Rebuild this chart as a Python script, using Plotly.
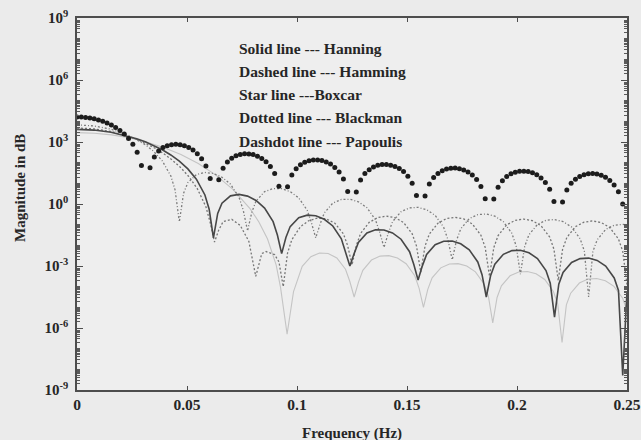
import numpy as np
import plotly.graph_objects as go

# ---------------------------------------------------------------------------
# Spectral magnitude of five data windows, stored as log10(magnitude).
# ---------------------------------------------------------------------------

# Boxcar ("star line"): sampled every 1/512 Hz from 0 to 0.25 Hz; exact nulls are empty.
boxcar_freq = np.arange(129) / 512.0
boxcar_log = [
    4.21, 4.21, 4.19, 4.16, 4.12, 4.07, 4.00, 3.92, 3.82, 3.70, 3.56, 3.39, 3.17, 2.89, 2.50, 1.86, None,
    1.75, 2.28, 2.56, 2.73, 2.82, 2.87, 2.89, 2.87, 2.82, 2.73, 2.61, 2.43, 2.19, 1.84, 1.23, None,
    1.17, 1.73, 2.03, 2.21, 2.33, 2.40, 2.43, 2.42, 2.39, 2.31, 2.20, 2.04, 1.81, 1.47, 0.86, None,
    0.83, 1.40, 1.70, 1.90, 2.02, 2.09, 2.13, 2.13, 2.10, 2.03, 1.93, 1.77, 1.55, 1.21, 0.61, None,
    0.58, 1.16, 1.47, 1.66, 1.79, 1.87, 1.91, 1.91, 1.88, 1.82, 1.72, 1.57, 1.34, 1.01, 0.41, None,
    0.39, 0.97, 1.28, 1.48, 1.61, 1.69, 1.73, 1.74, 1.71, 1.65, 1.55, 1.40, 1.18, 0.85, 0.25, None,
    0.24, 0.81, 1.13, 1.33, 1.46, 1.54, 1.59, 1.59, 1.57, 1.51, 1.41, 1.26, 1.04, 0.71, 0.12, None,
    0.10, 0.68, 1.00, 1.20, 1.33, 1.42, 1.46, 1.47, 1.45, 1.39, 1.29, 1.14, 0.92, 0.59, 0.00, None,
]

# Hanning (solid line)
hanning_freq = [
    0.0, 0.007752, 0.015504, 0.023256, 0.027132, 0.031008, 0.034884, 0.038760, 0.042636,
    0.046512, 0.050388, 0.054264, 0.058140, 0.060078, 0.062016,
    0.063954, 0.065892, 0.069768, 0.073644, 0.077520, 0.081395, 0.085271, 0.089147, 0.091085, 0.093023,
    0.094961, 0.096899, 0.100775, 0.104651, 0.108527, 0.112403, 0.116279, 0.120155, 0.122093, 0.124031,
    0.125969, 0.127907, 0.131783, 0.135659, 0.139535, 0.143411, 0.147287, 0.151163, 0.153101, 0.155039,
    0.156977, 0.158915, 0.162791, 0.166667, 0.170543, 0.174419, 0.178295, 0.182171, 0.184109, 0.186047,
    0.187985, 0.189922, 0.193798, 0.197674, 0.201550, 0.205426, 0.209302, 0.213178, 0.215116, 0.217054,
    0.218992, 0.220930, 0.224806, 0.228682, 0.232558, 0.236434, 0.240310, 0.244186, 0.246124, 0.248062,
    0.250000,
]
hanning_log = [
    3.612, 3.577, 3.470, 3.285, 3.160, 3.010, 2.833, 2.623, 2.373,
    2.072, 1.698, 1.202, 0.436, -0.256, -1.64,
    -0.455, 0.037, 0.395, 0.465, 0.382, 0.171, -0.196, -0.856, -1.502, -2.40,
    -1.620, -1.092, -0.668, -0.541, -0.572, -0.738, -1.063, -1.686, -2.315, -3.00,
    -2.400, -1.856, -1.404, -1.250, -1.257, -1.400, -1.704, -2.307, -2.926, -3.68,
    -2.993, -2.441, -1.972, -1.802, -1.795, -1.924, -2.214, -2.805, -3.418, -4.50,
    -3.473, -2.915, -2.436, -2.256, -2.239, -2.358, -2.639, -3.221, -3.830, -5.47,
    -3.878, -3.316, -2.828, -2.641, -2.617, -2.729, -3.004, -3.580, -4.186, -8.30,
    -4.227,
]

# Hamming (dashed line)
hamming_freq = [
    0.0, 0.0078125, 0.015625, 0.0234375, 0.02734375, 0.03125, 0.03515625, 0.0390625, 0.04296875,
    0.046875, 0.05078125, 0.0546875, 0.05859375, 0.06054688, 0.0625,
    0.064453, 0.066406, 0.070313, 0.074219, 0.078125, 0.080078, 0.08125, 0.083984, 0.085938,
    0.089844, 0.091797, 0.09375,
    0.095703, 0.097656, 0.101563, 0.105469, 0.109375, 0.113281, 0.117188, 0.121094, 0.123047, 0.125,
    0.126953, 0.128906, 0.132813, 0.136719, 0.140625, 0.144531, 0.148438, 0.152344, 0.154297, 0.15625,
    0.158203, 0.160156, 0.164063, 0.167969, 0.171875, 0.175781, 0.179688, 0.183594, 0.185547, 0.1875,
    0.189453, 0.191406, 0.195313, 0.199219, 0.203125, 0.207031, 0.210938, 0.214844, 0.216797, 0.21875,
    0.220703, 0.222656, 0.226563, 0.230469, 0.234375, 0.238281, 0.242188, 0.246094, 0.248047, 0.25,
]
hamming_log = [
    3.679, 3.636, 3.504, 3.276, 3.122, 2.938, 2.719, 2.461, 2.154,
    1.787, 1.333, 0.744, -0.136, -0.895, -1.84,
    -1.252, -0.856, -0.742, -1.037, -1.812, -2.771, -3.50, -2.40, -2.30,
    -2.45, -2.80, -4.00,
    -2.372, -1.724, -1.097, -0.799, -0.683, -0.718, -0.927, -1.443, -2.022, -2.95,
    -2.013, -1.425, -0.888, -0.656, -0.588, -0.660, -0.897, -1.437, -2.025, -3.30,
    -2.033, -1.452, -0.927, -0.704, -0.645, -0.723, -0.966, -1.509, -2.100, -3.50,
    -2.111, -1.531, -1.009, -0.788, -0.730, -0.810, -1.053, -1.598, -2.189, -3.70,
    -2.200, -1.620, -1.098, -0.877, -0.819, -0.899, -1.142, -1.686, -2.277, -3.90,
]

# Blackman (dotted line)
blackman_freq = [
    0.0, 0.007874, 0.015748, 0.023622, 0.031496, 0.039370, 0.047244, 0.055118, 0.062992,
    0.070866, 0.078740, 0.082677, 0.086614, 0.090551, 0.092520, 0.095500,
    0.098425, 0.102362, 0.106299, 0.110236, 0.114173, 0.118110, 0.122047, 0.124016, 0.125984,
    0.127953, 0.129921, 0.133858, 0.137795, 0.141732, 0.145669, 0.149606, 0.153543, 0.155512, 0.157480,
    0.159449, 0.161417, 0.165354, 0.169291, 0.173228, 0.177165, 0.181102, 0.185039, 0.187008, 0.188976,
    0.190945, 0.192913, 0.196850, 0.200787, 0.204724, 0.208661, 0.212598, 0.216535, 0.218504, 0.220472,
    0.222441, 0.224409, 0.228346, 0.232283, 0.236220, 0.240157, 0.244094, 0.248031, 0.250000,
]
blackman_log = [
    3.454, 3.427, 3.344, 3.204, 3.003, 2.736, 2.392, 1.959, 1.412,
    0.709, -0.239, -0.870, -1.697, -2.953, -4.031, -6.30,
    -4.236, -3.017, -2.546, -2.370, -2.393, -2.613, -3.155, -3.750, -4.50,
    -3.777, -3.208, -2.712, -2.521, -2.497, -2.612, -2.892, -3.474, -4.084, -5.00,
    -4.133, -3.573, -3.089, -2.906, -2.887, -3.004, -3.285, -3.866, -4.475, -5.75,
    -4.522, -3.960, -3.473, -3.287, -3.263, -3.377, -3.653, -4.230, -4.837, -6.70,
    -4.879, -4.315, -3.824, -3.633, -3.605, -3.713, -3.985, -4.558, -5.162,
]

# Papoulis (dash-dot line)
papoulis_freq = [
    0.0, 0.007752, 0.015504, 0.023256, 0.031008, 0.034884, 0.038760, 0.042636, 0.044574, 0.046512,
    0.048450, 0.050388, 0.054264, 0.058140, 0.062016, 0.065892, 0.069768, 0.073644, 0.075581, 0.077520,
    0.079457, 0.081395, 0.085271, 0.089147, 0.093023, 0.096899, 0.100775, 0.104651, 0.106589, 0.108527,
    0.110465, 0.112403, 0.116279, 0.120155, 0.124031, 0.127907, 0.131783, 0.135659, 0.137597, 0.139535,
    0.141473, 0.143411, 0.147287, 0.151163, 0.155039, 0.158915, 0.162791, 0.166667, 0.168605, 0.170543,
    0.172481, 0.174419, 0.178295, 0.182171, 0.186047, 0.189922, 0.193798, 0.197674, 0.199612, 0.201550,
    0.203488, 0.205426, 0.209302, 0.213178, 0.217054, 0.220930, 0.224806, 0.228682, 0.230620, 0.232558,
    0.234496, 0.236434, 0.240310, 0.244186, 0.248062, 0.250000,
]
papoulis_log = [
    3.829, 3.778, 3.619, 3.334, 2.875, 2.543, 2.088, 1.361, 0.687, -0.87,
    0.524, 1.034, 1.426, 1.528, 1.477, 1.296, 0.959, 0.327, -0.305, -1.30,
    -0.396, 0.146, 0.596, 0.748, 0.741, 0.599, 0.297, -0.303, -0.921, -1.64,
    -0.984, -0.430, 0.043, 0.218, 0.230, 0.107, -0.178, -0.762, -1.372, -2.10,
    -1.421, -0.860, -0.373, -0.187, -0.162, -0.274, -0.549, -1.123, -1.729, -2.70,
    -1.769, -1.203, -0.708, -0.514, -0.482, -0.587, -0.854, -1.422, -2.024, -3.40,
    -2.058, -1.489, -0.989, -0.788, -0.751, -0.851, -1.113, -1.677, -2.276, -4.50,
    -2.305, -1.735, -1.230, -1.025, -0.984, -1.015,
]

legend_lines = [
    "Solid line --- Hanning",
    "Dashed line --- Hamming",
    "Star line ---Boxcar",
    "Dotted line --- Blackman",
    "Dashdot line --- Papoulis",
]

x_ticks = [0, 0.05, 0.1, 0.15, 0.2, 0.25]
x_tick_text = ["0", "0.05", "0.1", "0.15", "0.2", "0.25"]
y_label_decades = [-9, -6, -3, 0, 3, 6, 9]


def magnitude(values):
    return [None if v is None else 10.0 ** v for v in values]


SERIF = "Liberation Serif, Times New Roman, serif"
INK = "#262626"
FRAME = "#4d4d4d"

fig = go.Figure()

fig.add_trace(go.Scatter(
    x=blackman_freq, y=magnitude(blackman_log), mode="lines",
    line=dict(color="#c4c4c4", width=1.1), name="Blackman",
))
fig.add_trace(go.Scatter(
    x=papoulis_freq, y=magnitude(papoulis_log), mode="lines",
    line=dict(color="#7c7c7c", width=1.3, dash="2px,2px,1px,2px"), name="Papoulis",
))
fig.add_trace(go.Scatter(
    x=hamming_freq, y=magnitude(hamming_log), mode="lines",
    line=dict(color="#767676", width=1.3, dash="2px,2px"), name="Hamming",
))
fig.add_trace(go.Scatter(
    x=hanning_freq, y=magnitude(hanning_log), mode="lines",
    line=dict(color="#474747", width=1.6), name="Hanning",
))
fig.add_trace(go.Scatter(
    x=boxcar_freq, y=magnitude(boxcar_log), mode="markers",
    marker=dict(color="#1c1c1c", size=5), name="Boxcar",
))

# In-plot key, one line of text per window
for i, text in enumerate(legend_lines):
    fig.add_annotation(
        xref="paper", yref="paper", x=0.291, y=0.919 - i * 0.0625,
        xanchor="left", yanchor="middle", showarrow=False, text=text,
        font=dict(family=SERIF, size=15.5, color=INK, weight="bold"),
    )

# Axis titles
fig.add_annotation(
    xref="paper", yref="paper", x=0.5, y=-0.1156, xanchor="center", yanchor="middle",
    showarrow=False, text="Frequency (Hz)",
    font=dict(family=SERIF, size=15, color=INK, weight="bold"),
)
fig.add_annotation(
    xref="paper", yref="paper", x=-0.1036, y=0.543, xanchor="center", yanchor="middle",
    showarrow=False, text="Magnitude in dB", textangle=-90,
    font=dict(family=SERIF, size=15, color=INK, weight="bold"),
)

fig.update_layout(
    width=641, height=440,
    margin=dict(l=77, r=14, t=18, b=50, autoexpand=False),
    paper_bgcolor="#ebebeb", plot_bgcolor="#eeeeee",
    showlegend=False, hovermode=False,
    font=dict(family=SERIF, color=INK),
)

fig.update_xaxes(
    range=[0, 0.25], tickmode="array", tickvals=x_ticks, ticktext=x_tick_text,
    ticks="inside", ticklen=4, tickcolor=FRAME, showgrid=False, zeroline=False,
    showline=True, linecolor=FRAME, linewidth=1.6, mirror="allticks", automargin=False,
    tickfont=dict(family=SERIF, size=15.5, color=INK, weight="bold"),
)

fig.update_yaxes(
    type="log", range=[-9, 9], tickmode="array",
    tickvals=[10.0 ** d for d in y_label_decades],
    ticktext=["10<sup>%d</sup>" % d for d in y_label_decades],
    ticks="inside", ticklen=6, tickcolor=FRAME, showgrid=False, zeroline=False,
    showline=True, linecolor=FRAME, linewidth=1.6, mirror="allticks", automargin=False,
    minor=dict(ticks="inside", ticklen=3, tickcolor="#5a5a5a", dtick="D1", showgrid=False),
    ticklabelstandoff=4,
    tickfont=dict(family=SERIF, size=15, color=INK, weight="bold"),
)

fig.write_html("out.html")
